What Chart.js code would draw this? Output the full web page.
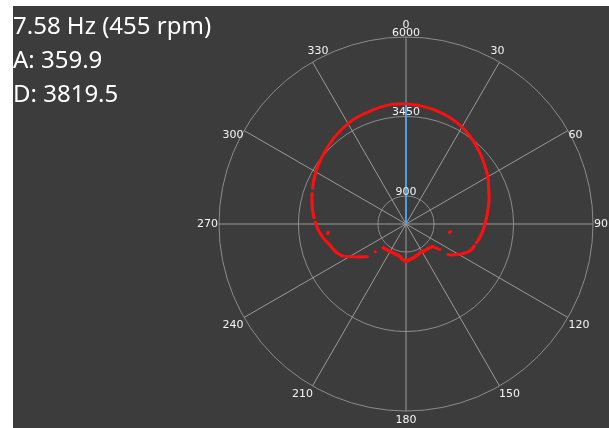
<!DOCTYPE html>
<html>
<head>
<meta charset="utf-8">
<script src="https://cdn.jsdelivr.net/npm/chart.js@4/dist/chart.umd.min.js"></script>
<style>
  html, body { margin: 0; padding: 0; background: #ffffff; width: 609px; height: 428px; overflow: hidden; }
  #panel { position: absolute; left: 13px; top: 6px; width: 596px; height: 422px; background: #3c3c3c; overflow: hidden; }
  #box { position: absolute; left: 0; top: 0; width: 596px; height: 422px; }
  #info { position: absolute; left: 0; top: 2px; color: #ffffff; font-family: "Noto Sans", sans-serif; font-size: 24px; line-height: 34px; white-space: nowrap; }
</style>
</head>
<body>
<div id="panel">
  <div id="box"><canvas id="scan"></canvas></div>
  <div id="info">
    <div>7.58 Hz (455 rpm)</div>
    <div>A: 359.9</div>
    <div>D: 3819.5</div>
  </div>
</div>
<script>
// angle labels every 30 degrees, clockwise from the top
const angleLabels = ['0', '30', '60', '90', '120', '150', '180', '210', '240', '270', '300', '330'];
// distance rings
const rangeTicks = [900, 3450, 6000];
const rangeMax = 6000;

// one reading per degree (index = angle), null = no return
const distances = [
  3850, 3850, 3845, 3840, 3835, 3830, 3825, 3820, 3815, 3808,
  3800, 3795, 3788, 3780, 3772, 3765, 3757, 3748, 3740, 3730,
  3720, 3710, 3700, 3688, 3676, 3664, 3650, 3636, 3622, 3606,
  3590, 3574, 3558, 3540, 3522, 3504, 3486, 3468, 3448, 3428,
  3410, 3392, 3372, 3352, 3332, 3312, 3292, 3272, 3252, 3232,
  3214, 3194, 3174, 3156, 3138, 3120, 3102, 3085, 3068, 3050,
  3030, 3010, 2990, 2968, 2946, 2924, 2904, 2884, 2866, 2850,
  2834, 2818, 2802, 2786, 2770, 2754, 2738, 2722, 2704, 2688,
  2672, 2656, 2640, 2626, 2612, 2598, 2584, 2570, 2556, 2544,
  2532, 2520, 2508, 2496, 2486, 2474, 2462, 2450, 2436, 2422,
  2408, 2394, 2380, 2366, 2352, 2338, null, null, 2298, 2286,
  2274, 2262, 2240, 2215, 2190, 2160, 2120, 2080, 2040, 1995,
  1950, 1905, 1860, 1815, 1770, 1720, 1670, 1360, 1280, 1200,
  1130, 1110, 1100, 1090, 1080, 1075, 1070, 1065, 1060, 1058,
  1055, 1052, 1050, 1048, 1046, 1044, 1042, 1040, 1038, 1036,
  1034, 1032, 1030, 1030, 1030, 1035, 1040, 1045, 1050, 1056,
  1062, 1068, 1074, 1080, 1086, 1092, 1098, 1104, 1110, 1116,
  1122, 1128, 1134, 1140, 1148, 1156, 1164, 1172, 1180, 1190,
  1195, 1190, 1180, 1168, 1156, 1144, 1130, 1116, 1100, 1080,
  1060, 1050, 1045, 1040, 1036, 1032, 1030, 1028, 1026, 1024,
  1022, 1020, 1018, 1016, 1014, 1013, 1012, 1012, 1012, 1012,
  1012, 1014, 1016, 1018, 1020, 1023, 1026, 1029, 1032, 1036,
  1040, 1044, 1048, 1052, 1056, null, null, null, 1330, null,
  1630, 1670, 1710, 1750, 1795, 1840, 1885, 1935, 1985, 2035,
  2090, 2145, 2205, 2270, 2300, 2330, 2360, 2390, 2410, 2430,
  2450, 2468, 2486, 2504, 2520, 2540, 2568, 2596, 2624, 2652,
  2680, 2705, 2728, 2750, 2772, 2794, 2816, 2836, 2854, 2872,
  2890, 2908, null, null, 2958, 2974, 2990, 3006, 3022, 3038,
  3054, 3068, 3082, 3096, 3110, 3124, 3140, 3154, 3168, null,
  null, 3210, 3224, 3240, 3256, 3270, 3284, 3298, 3312, 3326,
  3340, 3354, 3368, 3380, 3392, 3404, 3416, 3428, 3440, 3452,
  3464, 3476, 3488, 3502, 3516, 3530, 3544, 3558, 3572, 3586,
  3600, 3612, 3624, 3636, 3648, 3660, 3672, 3684, 3696, 3708,
  3720, 3732, 3742, 3750, 3757, 3763, 3768, 3773, 3778, 3782,
  3786, 3792, 3798, 3805, 3812, 3819, 3826, 3833, 3840, 3846,
  3852, 3858, 3864, 3866, 3866, 3864, 3862, 3858, 3855, 3852
];

// stray returns off the main outline
const strayAngles = [100, 101, 263, 264];
const strayDist = [1450, 1420, 2530, 2510];

// current beam (A / D in the corner)
const beamAngle = 0;
const beamDist = 3819.5;

const degrees = Array.from({length: 360}, (_, i) => String(i));

const strays = degrees.map(() => null);
strayAngles.forEach((a, i) => { strays[a] = strayDist[i]; });

const beam = degrees.map(() => null);
beam[beamAngle] = beamDist;
beam[beamAngle + 1] = 0;

// which side of the spoke end the angle label sits on
function labelSide(a) {
  let hx = a === 0 || a === 180 ? 0 : (a < 180 ? 1 : -1);
  if (a === 30 || a === 330) hx = -hx;
  let vy = 1;
  if (a === 0 || a === 30 || a === 330) vy = -1;
  if (a === 90 || a === 270) vy = 0;
  return { hx, vy };
}

const textPlugin = {
  id: 'polarText',
  afterDraw(chart) {
    const s = chart.scales.r;
    const c = chart.ctx;
    c.save();
    c.font = '11px "DejaVu Sans"';
    c.fillStyle = '#f4f4f4';
    c.textAlign = 'center';
    c.textBaseline = 'middle';
    rangeTicks.forEach(v => {
      const d = s.getDistanceFromCenterForValue(v);
      c.fillText(String(v), s.xCenter, s.yCenter - d - 4);
    });
    angleLabels.forEach(t => {
      const a = Number(t);
      const side = labelSide(a);
      const p = s.getPointPosition(a, s.drawingArea + (side.vy < 0 ? 6 : 3));
      const w = c.measureText(t).width;
      c.fillText(t, p.x + side.hx * (w / 2 - 2), p.y + side.vy * 6);
    });
    c.restore();
  }
};

new Chart(document.getElementById('scan'), {
  type: 'radar',
  data: {
    labels: degrees,
    datasets: [
      {
        label: 'scan',
        data: distances,
        showLine: false,
        fill: false,
        pointRadius: 1.6,
        pointBorderWidth: 0,
        pointBackgroundColor: '#ff1010',
        order: 2
      },
      {
        label: 'stray',
        data: strays,
        showLine: false,
        fill: false,
        pointRadius: 1.7,
        pointBorderWidth: 0,
        pointBackgroundColor: '#ff1010',
        order: 2
      },
      {
        label: 'beam',
        data: beam,
        fill: false,
        spanGaps: false,
        borderColor: '#4f9fe0',
        borderWidth: 2,
        pointRadius: 0,
        order: 1
      }
    ]
  },
  options: {
    responsive: true,
    maintainAspectRatio: false,
    animation: false,
    layout: { padding: { left: 206, top: 31, right: 15, bottom: 16 } },
    plugins: { legend: { display: false }, tooltip: { enabled: false } },
    scales: {
      r: {
        min: 0,
        max: rangeMax,
        startAngle: 0,
        afterBuildTicks: s => { s.ticks = [0].concat(rangeTicks).map(v => ({ value: v })); },
        ticks: { display: false },
        grid: { circular: true, color: '#8c8c8c', lineWidth: 1 },
        angleLines: {
          color: ctx => ctx.index % 30 === 0 ? '#9a9a9a' : 'rgba(0,0,0,0)',
          lineWidth: ctx => ctx.index % 30 === 0 ? 1 : 0
        },
        pointLabels: { display: false }
      }
    }
  },
  plugins: [textPlugin]
});
</script>
</body>
</html>
